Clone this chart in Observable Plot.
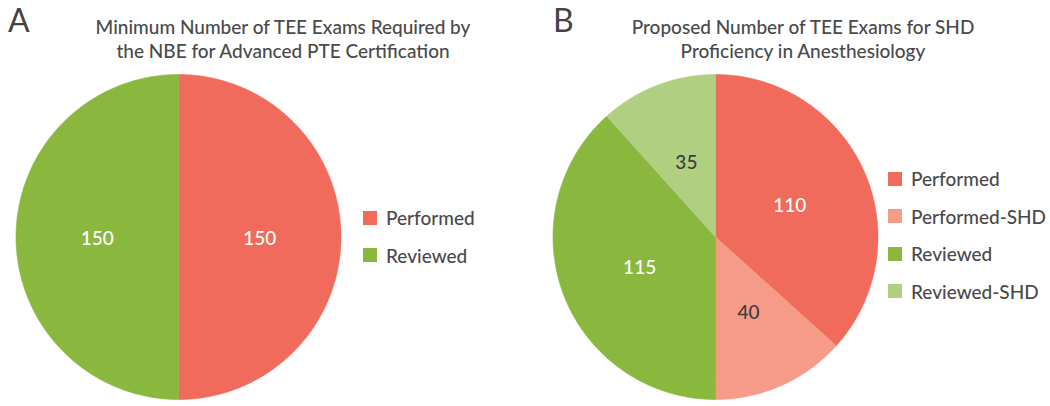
<!DOCTYPE html>
<html><head><meta charset="utf-8">
<script src="https://cdn.jsdelivr.net/npm/d3@7"></script>
<script src="https://cdn.jsdelivr.net/npm/@observablehq/plot@0.6"></script>
<style>
body{margin:0;background:#fff;}
#root{position:relative;width:1050px;height:406px;overflow:hidden;font-family:Lato,sans-serif;color:#4a4a4a;}
.letter{position:absolute;font-size:32px;line-height:32px;top:4px;color:#444;}
.title{position:absolute;top:15px;width:520px;text-align:center;font-size:19px;font-weight:500;line-height:24px;color:#4a4a4a;}
.pie{position:absolute;top:70px;}
.leg{position:absolute;}
.leg .lg-swatches{margin:0 !important;}
.leg .lg-swatch{height:37.5px;padding:0 !important;margin:0;display:flex;align-items:center;}
.leg .lg-swatch > svg{margin-right:9px !important;}
</style>
</head><body>
<div id="root">
  <div class="letter" style="left:8px">A</div>
  <div class="title" style="left:23px">Minimum Number of TEE Exams Required by<br>the NBE for Advanced PTE Certification</div>
  <div class="letter" style="left:553px">B</div>
  <div class="title" style="left:543px">Proposed Number of TEE Exams for SHD<br>Proficiency in Anesthesiology</div>
  <div class="pie" id="pieA" style="left:0px"></div>
  <div class="pie" id="pieB" style="left:540px"></div>
  <div class="leg" id="legA" style="left:363px;top:199px"></div>
  <div class="leg" id="legB" style="left:888px;top:160px"></div>
</div>
<script>
// ---- data ----
const categoriesA = ["Performed", "Reviewed"];
const valuesA = [150, 150];
const categoriesB = ["Performed", "Performed-SHD", "Reviewed", "Reviewed-SHD"];
const valuesB = [110, 40, 115, 35];

// ---- styles ----
const paletteA = ["#F06B5B", "#8AB83F"];
const paletteB = ["#F06B5B", "#F59B87", "#8AB83F", "#B1CF80"];
const darkLabelsB = ["Performed-SHD", "Reviewed-SHD"];

function piePlot(cats, vals, colors, darkCats, xRange, yRange, w, h) {
  const arcs = d3.pie().sort(null).value(d => d)(vals);
  const pts = [];
  arcs.forEach((a, i) => {
    const n = Math.max(2, Math.ceil((a.endAngle - a.startAngle) / 0.01));
    pts.push({cat: cats[i], x: 0, y: 0});
    for (let k = 0; k <= n; k++) {
      const t = a.startAngle + (a.endAngle - a.startAngle) * k / n;
      pts.push({cat: cats[i], x: Math.sin(t), y: Math.cos(t)});
    }
    pts.push({cat: cats[i], x: 0, y: 0});
  });
  const labels = arcs.map((a, i) => {
    const m = (a.startAngle + a.endAngle) / 2;
    return {cat: cats[i], v: vals[i], x: 0.5 * Math.sin(m), y: 0.5 * Math.cos(m)};
  });
  const textOpts = {x: "x", y: "y", text: "v", fontSize: 19, fontWeight: 500, fontFamily: "Lato, sans-serif", dy: 2};
  return Plot.plot({
    width: w, height: h,
    x: {domain: [-1, 1], range: xRange, axis: null},
    y: {domain: [-1, 1], range: yRange, axis: null},
    color: {domain: cats, range: colors},
    marks: [
      Plot.line(pts, {x: "x", y: "y", z: "cat", fill: "cat", stroke: "cat", strokeWidth: 0.6, curve: "linear"}),
      Plot.text(labels.filter(d => !darkCats.includes(d.cat)), {...textOpts, fill: "white"}),
      Plot.text(labels.filter(d => darkCats.includes(d.cat)), {...textOpts, fill: "#3d3d3d"})
    ]
  });
}

const chartA = piePlot(categoriesA, valuesA, paletteA, [], [15.5, 340.5], [329, 4], 360, 336);
const chartB = piePlot(categoriesB, valuesB, paletteB, darkLabelsB, [12.5, 337.5], [329, 4], 345, 336);
document.getElementById("pieA").appendChild(chartA);
document.getElementById("pieB").appendChild(chartB);

const legOpts = {columns: 1, swatchSize: 14, className: "lg", style: {fontSize: "19px", fontWeight: 500, fontFamily: "Lato, sans-serif", color: "#4a4a4a"}};
document.getElementById("legA").appendChild(chartA.legend("color", legOpts));
document.getElementById("legB").appendChild(chartB.legend("color", legOpts));
</script>
</body></html>
